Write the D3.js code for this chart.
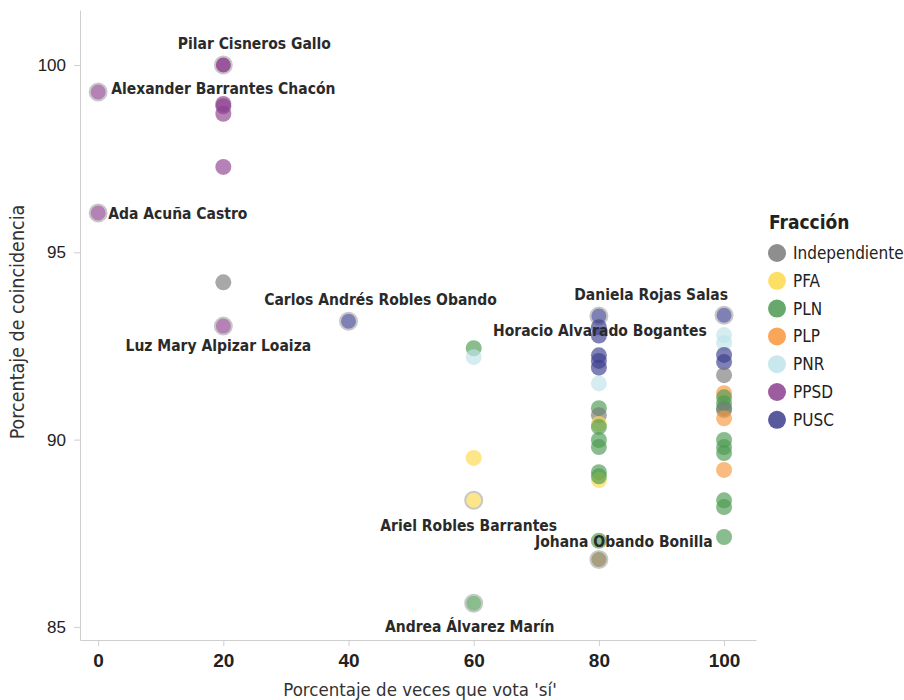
<!DOCTYPE html>
<html>
<head>
<meta charset="utf-8">
<script src="https://cdn.jsdelivr.net/npm/d3@7"></script>
<style>
  body { margin: 0; background: #fff; }
  svg { font-family: "DejaVu Sans Condensed", "Liberation Sans Narrow", sans-serif; }
  .axis path, .axis line { stroke: #cfcfcf; }
</style>
</head>
<body>
<svg width="904" height="700"></svg>
<script>
// data: each diputado / diputada
var fracciones = ["Independiente", "PFA", "PLN", "PLP", "PNR", "PPSD", "PUSC"];
var colores = ["#7a7a7a", "#fbd94a", "#4c9a50", "#f8973c", "#bfe4ea", "#8c3f8e", "#3b3d8c"];

var votaSi     = [0, 0, 20, 20, 20, 20, 20, 20, 20, 20, 40,
                  60, 60, 60, 60, 60,
                  80, 80, 80, 80, 80, 80, 80, 80, 80, 80, 80, 80, 80, 80, 80, 80, 80, 80, 80,
                  100, 100, 100, 100, 100, 100, 100, 100, 100, 100, 100, 100, 100, 100, 100, 100, 100, 100, 100];
var coincidencia = [99.28, 96.05, 100, 100, 98.96, 98.9, 98.7, 97.28, 94.2, 93.03, 93.16,
                  92.44, 92.2, 89.51, 88.38, 85.63,
                  93.3, 93.0, 92.78, 92.25, 92.1, 91.92, 91.5, 90.84, 90.65, 90.42, 90.34, 89.99, 89.8, 89.13, 88.92, 89.02, 87.3, 86.8, 86.8,
                  93.32, 92.79, 92.58, 92.26, 92.07, 91.72, 91.24, 91.13, 90.97, 90.84, 90.79, 90.57, 89.99, 89.8, 89.64, 89.19, 88.38, 88.2, 87.4];
var fraccion   = ["PPSD", "PPSD", "PPSD", "PPSD", "PPSD", "PPSD", "PPSD", "PPSD", "Independiente", "PPSD", "PUSC",
                  "PLN", "PNR", "PFA", "PFA", "PLN",
                  "PUSC", "PUSC", "PUSC", "PUSC", "PUSC", "PUSC", "PNR", "PLN", "Independiente", "PFA", "PLN", "PLN", "PLN", "PLN", "PFA", "PLN", "PLN", "PFA", "Independiente",
                  "PUSC", "PNR", "PNR", "PUSC", "PUSC", "Independiente", "PLP", "PLN", "PLN", "PLN", "Independiente", "PLP", "PLN", "PLN", "PLN", "PLP", "PLN", "PLN", "PLN"];
var nombre     = ["Alexander Barrantes Chacón", "Ada Acuña Castro", "", "Pilar Cisneros Gallo", "", "", "", "", "", "Luz Mary Alpizar Loaiza", "Carlos Andrés Robles Obando",
                  "", "", "", "Ariel Robles Barrantes", "Andrea Álvarez Marín",
                  "Horacio Alvarado Bogantes", "", "", "", "", "", "", "", "", "", "", "", "", "", "", "", "", "", "Johana Obando Bonilla",
                  "Daniela Rojas Salas", "", "", "", "", "", "", "", "", "", "", "", "", "", "", "", "", "", ""];

var xTicks = [0, 20, 40, 60, 80, 100];
var yTicks = [85, 90, 95, 100];

var data = votaSi.map(function(v, i) {
  return {x: v, y: coincidencia[i], f: fraccion[i], name: nombre[i]};
});

var svg = d3.select("svg"),
    margin = {top: 10, right: 148, bottom: 60, left: 80},
    width = +svg.attr("width") - margin.left - margin.right,
    height = +svg.attr("height") - margin.top - margin.bottom;

var x = d3.scaleLinear().domain([-2.9, 105.1]).range([0, width]),
    y = d3.scaleLinear().domain([84.65, 101.47]).range([height, 0]),
    color = d3.scaleOrdinal().domain(fracciones).range(colores);

var g = svg.append("g")
    .attr("transform", "translate(" + margin.left + "," + margin.top + ")");

// axes
var gx = g.append("g")
    .attr("class", "axis axis--x")
    .attr("transform", "translate(0," + height + ")")
    .call(d3.axisBottom(x).tickValues(xTicks).tickSize(6).tickSizeOuter(0));
gx.selectAll("text")
    .attr("dy", "0.95em")
    .style("font-size", "19px")
    .style("font-weight", "bold")
    .style("fill", "#222");

var gy = g.append("g")
    .attr("class", "axis axis--y")
    .call(d3.axisLeft(y).tickValues(yTicks).tickSize(6).tickSizeOuter(0).tickPadding(8));
gy.selectAll("text")
    .style("font-family", "'Liberation Sans', Arial, sans-serif")
    .style("font-size", "17px")
    .style("fill", "#222");

g.append("text")
    .attr("x", width / 2 + 2)
    .attr("y", height + 56)
    .attr("text-anchor", "middle")
    .style("font-size", "18.5px")
    .style("fill", "#333")
    .text("Porcentaje de veces que vota 'sí'");

g.append("text")
    .attr("transform", "rotate(-90)")
    .attr("x", -height / 2 + 3)
    .attr("y", -56)
    .attr("text-anchor", "middle")
    .style("font-size", "19.5px")
    .style("fill", "#333")
    .text("Porcentaje de coincidencia");

// points
g.selectAll(".dot")
    .data(data)
  .enter().append("circle")
    .attr("class", "dot")
    .attr("cx", function(d) { return x(d.x); })
    .attr("cy", function(d) { return y(d.y); })
    .attr("r", function(d) { return d.name ? 8.5 : 8; })
    .style("fill", function(d) { return color(d.f); })
    .style("fill-opacity", 0.65)
    .style("stroke", function(d) { return d.name ? "#c8c8c8" : "none"; })
    .style("stroke-width", 2);

// labels (offset from the point, and anchor)
var labelPos = {
  "Pilar Cisneros Gallo":        [31, -21, "middle"],
  "Alexander Barrantes Chacón":  [13, -3, "start"],
  "Ada Acuña Castro":            [10, 1, "start"],
  "Carlos Andrés Robles Obando": [32, -22, "middle"],
  "Luz Mary Alpizar Loaiza":     [-5, 19, "middle"],
  "Daniela Rojas Salas":         [4, -21, "end"],
  "Horacio Alvarado Bogantes":   [1, 15, "middle"],
  "Ariel Robles Barrantes":      [-5, 25, "middle"],
  "Johana Obando Bonilla":       [25, -18, "middle"],
  "Andrea Álvarez Marín":        [-4, 23, "middle"]
};

g.selectAll(".label")
    .data(data.filter(function(d) { return d.name; }))
  .enter().append("text")
    .attr("class", "label")
    .attr("x", function(d) { return x(d.x) + labelPos[d.name][0]; })
    .attr("y", function(d) { return y(d.y) + labelPos[d.name][1]; })
    .attr("text-anchor", function(d) { return labelPos[d.name][2]; })
    .attr("dy", "0.35em")
    .style("font-size", "15.5px")
    .style("font-weight", "bold")
    .style("fill", "#2a2a2a")
    .text(function(d) { return d.name; });

// legend
var legend = svg.append("g")
    .attr("transform", "translate(768,222)");

legend.append("text")
    .attr("x", 1)
    .attr("dy", "0.35em")
    .style("font-size", "19px")
    .style("font-weight", "bold")
    .style("fill", "#222")
    .text("Fracción");

var item = legend.selectAll(".item")
    .data(fracciones)
  .enter().append("g")
    .attr("class", "item")
    .attr("transform", function(d, i) { return "translate(0," + (31 + i * 27.8) + ")"; });

item.append("circle")
    .attr("cx", 9)
    .attr("r", 9)
    .style("fill", function(d) { return color(d); })
    .style("fill-opacity", 0.85);

item.append("text")
    .attr("x", 25)
    .attr("dy", "0.35em")
    .style("font-size", "17px")
    .style("fill", "#222")
    .text(function(d) { return d; });
</script>
</body>
</html>
